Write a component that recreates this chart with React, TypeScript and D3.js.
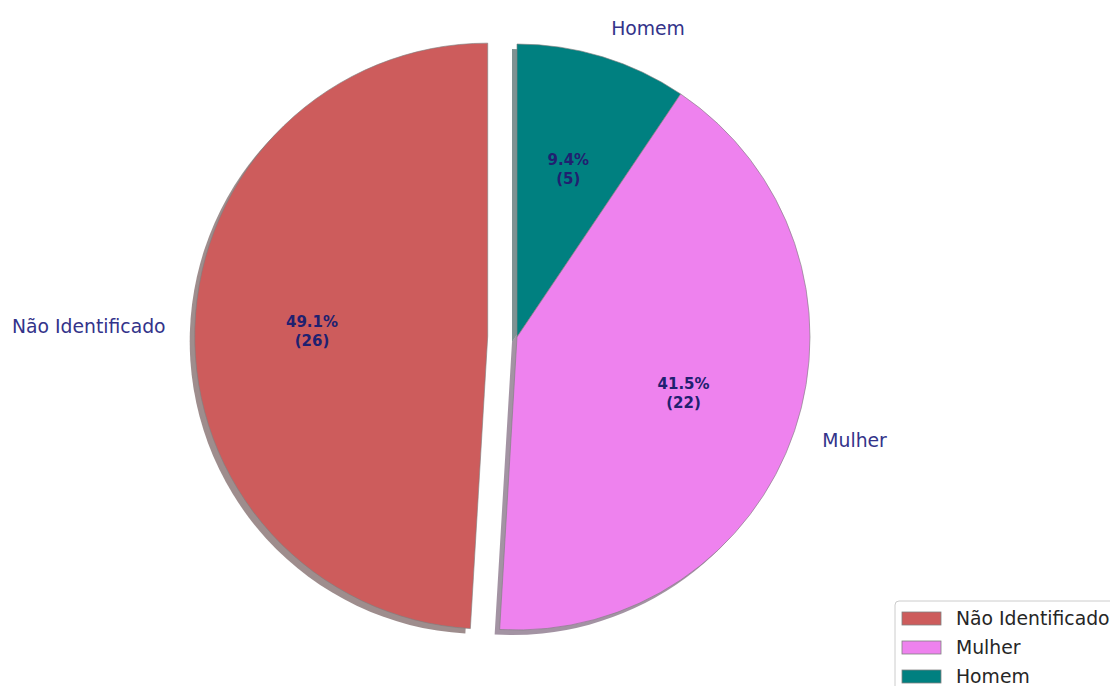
import { useEffect, useRef } from "react";
import * as d3 from "d3";

const categories = ["Homem", "Mulher", "Não Identificado"];
const counts = [5, 22, 26];
const colors = ["#008080", "#ee82ee", "#cd5c5c"];
const explode = [0, 0, 0.1];
const legendOrder = ["Não Identificado", "Mulher", "Homem"];

const W = 1110;
const H = 686;

const App = () => {
  const ref = useRef<SVGSVGElement>(null);

  useEffect(() => {
    const svg = d3.select(ref.current);
    svg.selectAll("*").remove();

    const cx = 517;
    const cy = 337;
    const r = 293;
    const total = d3.sum(counts);

    // clockwise from 12 o'clock, like startangle=90, counterclock=False
    const arcs = d3
      .pie<number>()
      .sort(null)
      .value((d) => d)(counts);
    const arc = d3.arc<d3.PieArcDatum<number>>().innerRadius(0).outerRadius(r);

    const offset = (d: d3.PieArcDatum<number>, i: number) => {
      const mid = (d.startAngle + d.endAngle) / 2;
      const e = explode[i] * r;
      return [Math.sin(mid) * e, -Math.cos(mid) * e];
    };

    const g = svg.append("g").attr("transform", `translate(${cx},${cy})`);

    // shadow
    g.append("g")
      .selectAll("path")
      .data(arcs)
      .join("path")
      .attr("transform", (d, i) => {
        const [dx, dy] = offset(d, i);
        return `translate(${dx - 5},${dy + 5})`;
      })
      .attr("fill", (d, i) => {
        const c = d3.rgb(colors[i]);
        return d3.rgb(c.r * 0.3, c.g * 0.3, c.b * 0.3).toString();
      })
      .attr("fill-opacity", 0.5)
      .attr("d", arc);

    g.append("g")
      .selectAll("path")
      .data(arcs)
      .join("path")
      .attr("transform", (d, i) => {
        const [dx, dy] = offset(d, i);
        return `translate(${dx},${dy})`;
      })
      .attr("fill", (d, i) => colors[i])
      .attr("stroke", "#808080")
      .attr("stroke-opacity", 0.7)
      .attr("stroke-width", 0.9)
      .attr("d", arc);

    // outer labels
    g.append("g")
      .selectAll("text")
      .data(arcs)
      .join("text")
      .attr("x", (d, i) => {
        const mid = (d.startAngle + d.endAngle) / 2;
        return offset(d, i)[0] + Math.sin(mid) * r * 1.1;
      })
      .attr("y", (d, i) => {
        const mid = (d.startAngle + d.endAngle) / 2;
        return offset(d, i)[1] - Math.cos(mid) * r * 1.1;
      })
      .attr("dy", "0.35em")
      .attr("text-anchor", (d) =>
        Math.sin((d.startAngle + d.endAngle) / 2) > 0 ? "start" : "end"
      )
      .attr("font-family", "DejaVu Sans")
      .attr("font-size", 18.8)
      .attr("fill", "#33338a")
      .text((d, i) => categories[i]);

    // percentage labels
    const pct = g
      .append("g")
      .selectAll("text")
      .data(arcs)
      .join("text")
      .attr("transform", (d, i) => {
        const mid = (d.startAngle + d.endAngle) / 2;
        const [dx, dy] = offset(d, i);
        return `translate(${dx + Math.sin(mid) * r * 0.6},${
          dy - Math.cos(mid) * r * 0.6
        })`;
      })
      .attr("text-anchor", "middle")
      .attr("font-family", "DejaVu Sans")
      .attr("font-weight", "bold")
      .attr("font-size", 15)
      .attr("fill", "#202070");
    pct
      .append("tspan")
      .attr("x", 0)
      .attr("y", -4)
      .text((d) => `${((d.value / total) * 100).toFixed(1)}%`);
    pct
      .append("tspan")
      .attr("x", 0)
      .attr("y", 15)
      .text((d) => `(${d.value})`);

    // legend
    const lg = svg.append("g").attr("transform", "translate(895,601)");
    lg.append("rect")
      .attr("width", 240)
      .attr("height", 120)
      .attr("rx", 4)
      .attr("fill", "white")
      .attr("fill-opacity", 0.8)
      .attr("stroke", "#cccccc");
    const rows = lg
      .selectAll("g.row")
      .data(legendOrder)
      .join("g")
      .attr("class", "row")
      .attr("transform", (d, i) => `translate(0,${17 + i * 29})`);
    rows
      .append("rect")
      .attr("x", 7)
      .attr("y", -6)
      .attr("width", 39)
      .attr("height", 13)
      .attr("fill", (d) => colors[categories.indexOf(d)])
      .attr("stroke", "#808080")
      .attr("stroke-width", 0.8);
    rows
      .append("text")
      .attr("x", 61)
      .attr("dy", "0.35em")
      .attr("font-family", "DejaVu Sans")
      .attr("font-size", 18.8)
      .attr("fill", "#262626")
      .text((d) => d);
  }, []);

  return (
    <svg
      ref={ref}
      width={W}
      height={H}
      style={{ position: "absolute", left: 0, top: 0, background: "white" }}
    />
  );
};

export default App;
